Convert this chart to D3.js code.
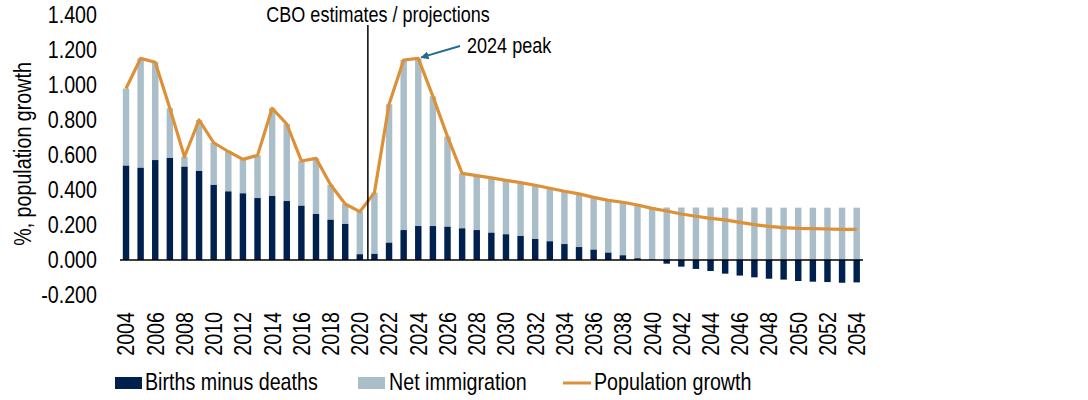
<!DOCTYPE html>
<html><head><meta charset="utf-8">
<script src="https://cdn.jsdelivr.net/npm/d3@7"></script>
<style>
body{margin:0;background:#fff;}
svg text{font-family:"Liberation Sans",Arial,sans-serif;fill:#000;}
</style></head>
<body><svg id="c" width="1088" height="400"></svg>
<script>
const years = d3.range(2004, 2055).map(String);
const birthsMinusDeaths = [0.539,0.527,0.571,0.583,0.533,0.509,0.429,0.392,0.381,0.354,0.366,0.337,0.310,0.263,0.230,0.206,0.033,0.035,0.099,0.171,0.194,0.194,0.190,0.181,0.171,0.156,0.147,0.137,0.120,0.107,0.091,0.074,0.059,0.042,0.027,0.010,0.002,-0.021,-0.038,-0.051,-0.063,-0.078,-0.089,-0.099,-0.107,-0.112,-0.120,-0.124,-0.126,-0.130,-0.128];
const netImmigration = [0.441,0.625,0.559,0.284,0.057,0.291,0.241,0.228,0.194,0.244,0.501,0.440,0.256,0.318,0.200,0.114,0.243,0.350,0.791,0.972,0.958,0.741,0.515,0.314,0.311,0.313,0.308,0.305,0.307,0.303,0.302,0.304,0.299,0.299,0.303,0.304,0.300,0.300,0.300,0.300,0.300,0.300,0.300,0.300,0.300,0.299,0.299,0.299,0.299,0.299,0.299];
const populationGrowth = [0.980,1.152,1.130,0.867,0.590,0.800,0.670,0.620,0.575,0.598,0.867,0.777,0.566,0.581,0.430,0.320,0.276,0.385,0.890,1.143,1.152,0.935,0.705,0.495,0.482,0.469,0.455,0.442,0.427,0.410,0.393,0.378,0.358,0.341,0.330,0.314,0.295,0.280,0.263,0.250,0.238,0.229,0.215,0.202,0.192,0.185,0.181,0.179,0.177,0.175,0.175];
const yTicks = [-0.2,0,0.2,0.4,0.6,0.8,1.0,1.2,1.4];
const xTickLabels = years.filter((d,i)=>i%2===0);

const navy="#00204e", grey="#a9bec8", orange="#dc9138", arrowBlue="#226c91";
const NARROW=0.82;
const svg=d3.select("#c");
const x=d3.scaleBand().domain(years).range([118.7,864]).paddingInner(0.56).paddingOuter(0.28);
const y=d3.scaleLinear().domain([-0.2,1.4]).range([295,15]);
const cx=d=>x(d)+x.bandwidth()/2;

function ntext(parent, tx, ty, rot, size, anchor, str, dy){
  const t=parent.append("text")
    .attr("transform",`translate(${tx},${ty})${rot?` rotate(${rot})`:""} scale(${NARROW},1)`)
    .attr("text-anchor",anchor||"start").style("font-size",size+"px").text(str);
  if(dy) t.attr("dy",dy);
  return t;
}

// y tick labels
const gy=svg.append("g");
yTicks.forEach(d=>ntext(gy,97,y(d),0,24,"end",d3.format(".3f")(d).replace("−","-"),"0.35em"));

// y title
ntext(svg,31,154,-90,24,"middle","%, population growth");

// bars
const gb=svg.append("g");
gb.selectAll("rect.imm").data(years).join("rect").attr("class","imm")
  .attr("x",d=>x(d)).attr("width",x.bandwidth())
  .attr("y",(d,i)=>{const base=Math.max(0,birthsMinusDeaths[i]);return y(base+netImmigration[i]);})
  .attr("height",(d,i)=>{const base=Math.max(0,birthsMinusDeaths[i]);return y(base)-y(base+netImmigration[i]);})
  .attr("fill",grey);
gb.selectAll("rect.bmd").data(years).join("rect").attr("class","bmd")
  .attr("x",d=>x(d)).attr("width",x.bandwidth())
  .attr("y",(d,i)=>y(Math.max(0,birthsMinusDeaths[i])))
  .attr("height",(d,i)=>Math.abs(y(birthsMinusDeaths[i])-y(0)))
  .attr("fill",navy);

// x axis line
svg.append("line").attr("x1",120).attr("x2",863).attr("y1",y(0)).attr("y2",y(0))
  .attr("stroke","#000").attr("stroke-width",1.5);

// x tick labels
const gx=svg.append("g");
xTickLabels.forEach(d=>ntext(gx,cx(d),312,-90,24,"end",d,"0.35em"));

// line
svg.append("path").datum(populationGrowth)
  .attr("d",d3.line().x((d,i)=>cx(years[i])).y(d=>y(d)))
  .attr("fill","none").attr("stroke",orange).attr("stroke-width",3.2).attr("stroke-linejoin","round");

// CBO divider
const divX=cx("2020")+0.55*x.step();
svg.append("line").attr("x1",divX).attr("x2",divX).attr("y1",25).attr("y2",y(0))
  .attr("stroke","#000").attr("stroke-width",1.5);
ntext(svg,378,22,0,22,"middle","CBO estimates / projections");

// 2024 peak annotation
const defs=svg.append("defs");
defs.append("marker").attr("id","ah").attr("viewBox","0 0 10 10").attr("refX",9).attr("refY",5)
  .attr("markerWidth",4).attr("markerHeight",4).attr("orient","auto")
  .append("path").attr("d","M0,0L10,5L0,10z").attr("fill",arrowBlue);
svg.append("line").attr("x1",460).attr("y1",46).attr("x2",cx("2024")+3).attr("y2",y(1.152)-1)
  .attr("stroke",arrowBlue).attr("stroke-width",2).attr("marker-end","url(#ah)");
ntext(svg,467,53,0,22,"start","2024 peak");

// legend
const lg=svg.append("g");
lg.append("rect").attr("x",115).attr("y",377).attr("width",27).attr("height",12).attr("fill",navy);
ntext(lg,145,390,0,24,"start","Births minus deaths");
lg.append("rect").attr("x",358).attr("y",377).attr("width",27).attr("height",12).attr("fill",grey);
ntext(lg,389,390,0,24,"start","Net immigration");
lg.append("line").attr("x1",563).attr("x2",591).attr("y1",383).attr("y2",383).attr("stroke",orange).attr("stroke-width",3);
ntext(lg,594,390,0,24,"start","Population growth");
</script></body></html>
